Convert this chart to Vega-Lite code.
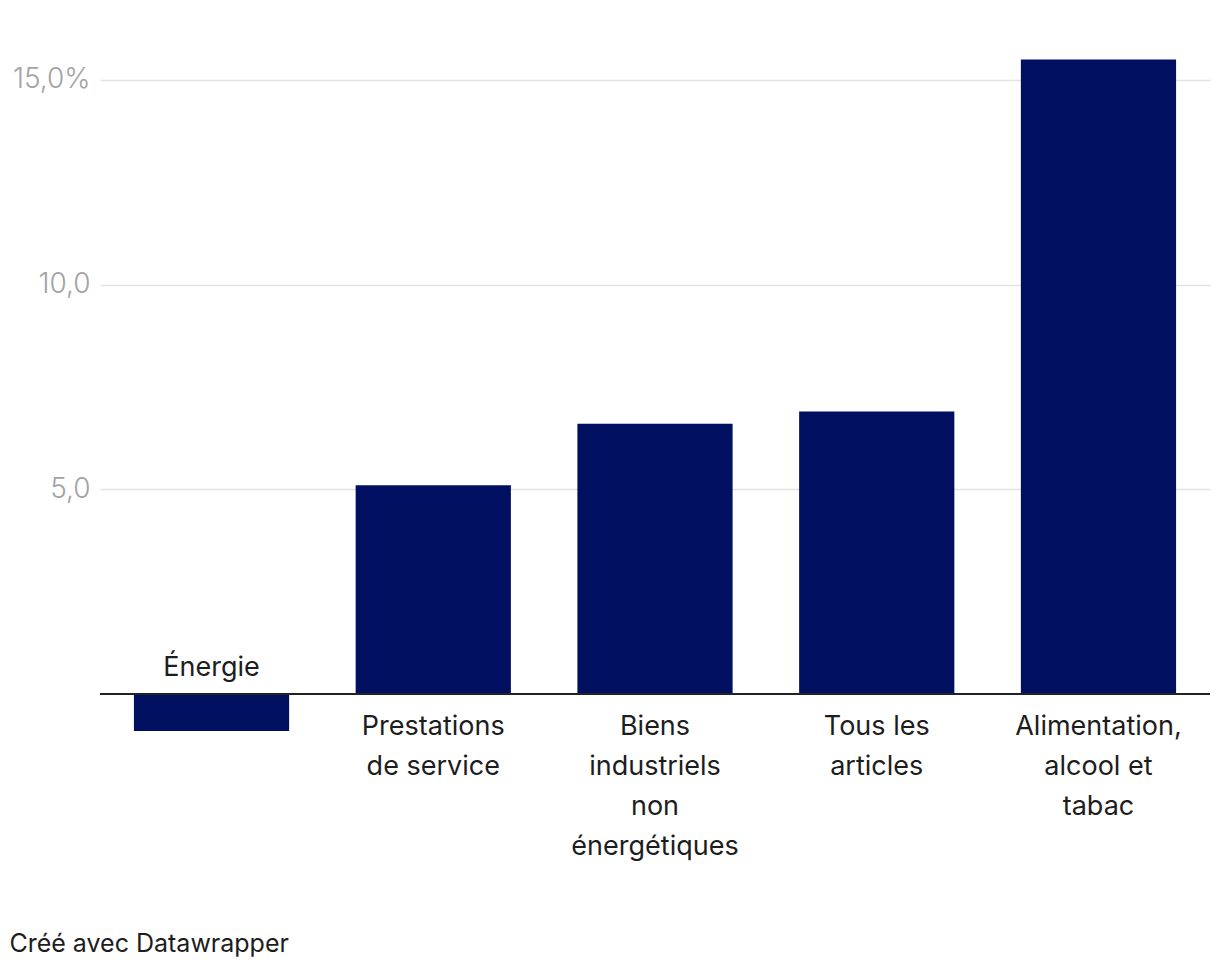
{
  "$schema": "https://vega.github.io/schema/vega-lite/v6.json",
  "width": 1110,
  "height": 696,
  "autosize": "none",
  "padding": {"left": 100, "top": 39, "right": 10, "bottom": 235},
  "background": "white",
  "config": {"view": {"stroke": null}, "font": "Inter"},
  "title": {
    "text": "Créé avec Datawrapper",
    "orient": "bottom",
    "anchor": "start",
    "frame": "bounds",
    "font": "Inter",
    "fontSize": 25,
    "fontWeight": "normal",
    "color": "#1d1d1d",
    "offset": 72,
    "dx": -3
  },
  "data": {
    "values": [
      {"cat": "Énergie", "label": ["Énergie"], "value": -0.9},
      {"cat": "Prestations de service", "label": ["Prestations", "de service"], "value": 5.1},
      {"cat": "Biens industriels non énergétiques", "label": ["Biens", "industriels", "non", "énergétiques"], "value": 6.6},
      {"cat": "Tous les articles", "label": ["Tous les", "articles"], "value": 6.9},
      {"cat": "Alimentation, alcool et tabac", "label": ["Alimentation,", "alcool et", "tabac"], "value": 15.5}
    ]
  },
  "encoding": {
    "x": {
      "field": "cat",
      "type": "nominal",
      "sort": null,
      "axis": null,
      "scale": {"paddingInner": 0.3, "paddingOuter": 0.153}
    }
  },
  "layer": [
    {
      "mark": {"type": "bar", "color": "#000f5f"},
      "encoding": {
        "y": {
          "field": "value",
          "type": "quantitative",
          "scale": {"domain": [-1, 16], "nice": false, "zero": false},
          "axis": {
            "values": [5, 10, 15],
            "title": null,
            "domain": false,
            "ticks": false,
            "grid": true,
            "gridColor": "#e3e3e3",
            "gridWidth": 1.5,
            "labelFont": "Inter",
            "labelFontSize": 28,
            "labelFontWeight": 300,
            "labelColor": "#a3a3a3",
            "labelPadding": 10,
            "labelExpr": "datum.value == 15 ? '15,0%' : replace(format(datum.value, '.1f'), '.', ',')"
          }
        }
      }
    },
    {
      "mark": {"type": "rule", "color": "#222222", "strokeWidth": 2},
      "encoding": {"y": {"datum": 0, "type": "quantitative"}, "x": null}
    },
    {
      "transform": [{"filter": "datum.value >= 0"}],
      "mark": {"type": "text", "baseline": "top", "align": "center", "dy": 20, "fontSize": 27, "lineHeight": 40, "color": "#1d1d1d", "font": "Inter"},
      "encoding": {
        "y": {"datum": 0, "type": "quantitative"},
        "text": {"field": "label"}
      }
    },
    {
      "transform": [{"filter": "datum.value < 0"}],
      "mark": {"type": "text", "baseline": "bottom", "align": "center", "dy": -12, "fontSize": 27, "lineHeight": 40, "color": "#1d1d1d", "font": "Inter"},
      "encoding": {
        "y": {"datum": 0, "type": "quantitative"},
        "text": {"field": "label"}
      }
    }
  ]
}
